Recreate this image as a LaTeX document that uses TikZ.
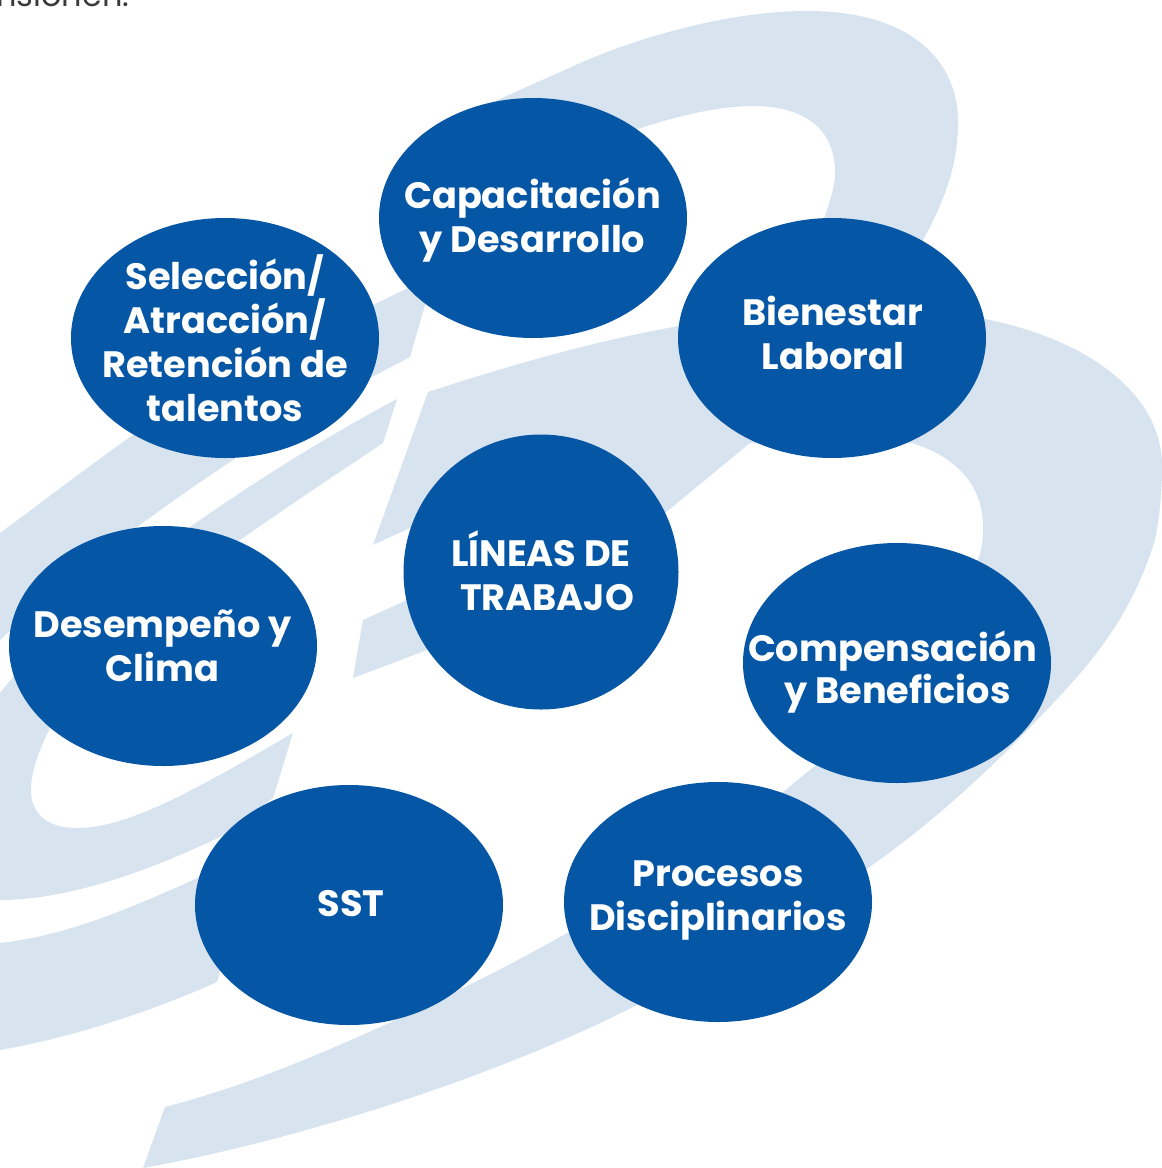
\documentclass[tikz,border=0pt]{standalone}
\usepackage{fontspec}
\setmainfont{Poppins}[BoldFont={* Bold}]
\usetikzlibrary{shapes.geometric}
\definecolor{band}{HTML}{D8E3F0}
\definecolor{blob}{HTML}{0556A5}
\definecolor{ink}{HTML}{3A3A3A}
% text set inside a node without widening it: {dx}{dy}{leading}{lines}
\newcommand\inbub[4]{\raisebox{#2}[0pt][0pt]{\makebox[0pt]{\hspace*{#1}\parbox[c]{400pt}{\fontsize{36.7}{#3}\selectfont\bfseries\centering\lineskiplimit=-100pt #4}}}}
\tikzset{
  ribbon/.style={fill=band,draw=none},
  bubble/.style={ellipse,fill=blob,draw=none,text=white,inner sep=0pt,minimum width=308,minimum height=240},
  hub/.style={bubble,minimum width=275,minimum height=275},
  stray/.style={text=ink,inner sep=0pt,anchor=base west,font=\fontsize{32}{34}\selectfont}
}
\begin{document}
\begin{tikzpicture}[x=1pt,y=-1pt]
\useasboundingbox (0,0) rectangle (1162,1168);
\clip (0,0) rectangle (1162,1168);
% upper ribbon
\path[ribbon] (0,533) .. controls (45,500) and (90,465) .. (133,435)
  .. controls (200,385) and (300,340) .. (373,305) -- (408,288)
  -- (480,200) -- (493,102) -- (587,60)
  .. controls (660,30) and (740,11) .. (808,11)
  .. controls (910,11) and (958,60) .. (958,122)
  .. controls (958,165) and (945,200) .. (923,240)
  -- (890,300) -- (800,260) -- (824,219)
  .. controls (832,195) and (835,185) .. (835,172)
  .. controls (835,130) and (805,106) .. (754,106)
  .. controls (720,106) and (680,115) .. (638,129)
  -- (500,190) -- (425,305) -- (410,357) -- (372,377)
  .. controls (320,405) and (275,432) .. (233,460)
  .. controls (150,515) and (70,575) .. (0,640) -- cycle;
% looping ribbon on the left
\path[ribbon] (397,399) .. controls (320,440) and (250,485) .. (190,527)
  .. controls (110,580) and (50,630) .. (0,693)
  -- (-60,800) -- (-60,900) -- (0,900)
  .. controls (70,900) and (150,870) .. (220,837)
  -- (273,798) -- (293,733)
  .. controls (200,787) and (130,828) .. (77,828)
  .. controls (45,828) and (31,812) .. (31,790)
  .. controls (31,770) and (40,748) .. (50,728)
  -- (140,620) -- (240,540)
  .. controls (290,505) and (335,475) .. (383,443) -- cycle;
% short ribbon lower left
\path[ribbon] (0,943) .. controls (70,935) and (130,908) .. (200,877)
  -- (250,900) -- (222,965) -- (217,982)
  .. controls (150,1012) and (70,1038) .. (0,1050) -- cycle;
% large ribbon on the right
\path[ribbon] (428,392) .. controls (520,362) and (600,340) .. (679,326)
  -- (800,310) -- (985,319)
  .. controls (1090,340) and (1162,395) .. (1162,466)
  .. controls (1162,490) and (1160,515) .. (1155,540)
  .. controls (1130,620) and (1090,665) .. (1040,717)
  .. controls (990,770) and (930,825) .. (868,868)
  .. controls (790,925) and (715,965) .. (637,1005)
  .. controls (500,1075) and (300,1140) .. (143,1168)
  -- (165,1107)
  .. controls (250,1085) and (330,1050) .. (400,1018)
  .. controls (455,993) and (510,965) .. (560,937)
  .. controls (640,895) and (720,845) .. (783,792)
  -- (816,765)
  .. controls (880,710) and (950,630) .. (979,557)
  .. controls (982,548) and (983,540) .. (983,527)
  .. controls (983,480) and (950,455) .. (912,443)
  -- (750,443) -- (665,513)
  .. controls (600,565) and (520,610) .. (427,650)
  -- (353,678) -- (363,620) -- (407,600) -- (520,555) -- (520,480) -- (410,528) -- (373,545) -- cycle;
% text cut by the page top
\node[stray] (cut) at (-4,6) {nsionen.};
% nodes
\node[hub] (lineas) at (541,572) {\inbub{0pt}{-1pt}{44}{LÍNEAS DE\\\hspace*{12pt}TRABAJO}};
\node[bubble] (capa) at (533,218) {\inbub{-1pt}{-5pt}{44}{Capacitación\\y Desarrollo}};
\node[bubble] (bien) at (832,338) {\inbub{2pt}{3pt}{44}{Bienestar\\Laboral}};
\node[bubble] (comp) at (897,663) {\inbub{-9pt}{-12pt}{42}{Compensación\\\hspace*{10pt}y Beneficios}};
\node[bubble] (proc) at (718,902) {\inbub{0pt}{-1pt}{44}{Procesos\\Disciplinarios}};
\node[bubble] (sst) at (349,905) {\inbub{4pt}{-1pt}{44}{SST}};
\node[bubble] (dese) at (163,646) {\inbub{-1pt}{-2pt}{44}{Desempeño y\\Clima}};
\node[bubble] (sele) at (225,338) {\inbub{0pt}{-3pt}{44}{Selección/\\Atracción/\\Retención de\\talentos}};
\end{tikzpicture}
\end{document}
